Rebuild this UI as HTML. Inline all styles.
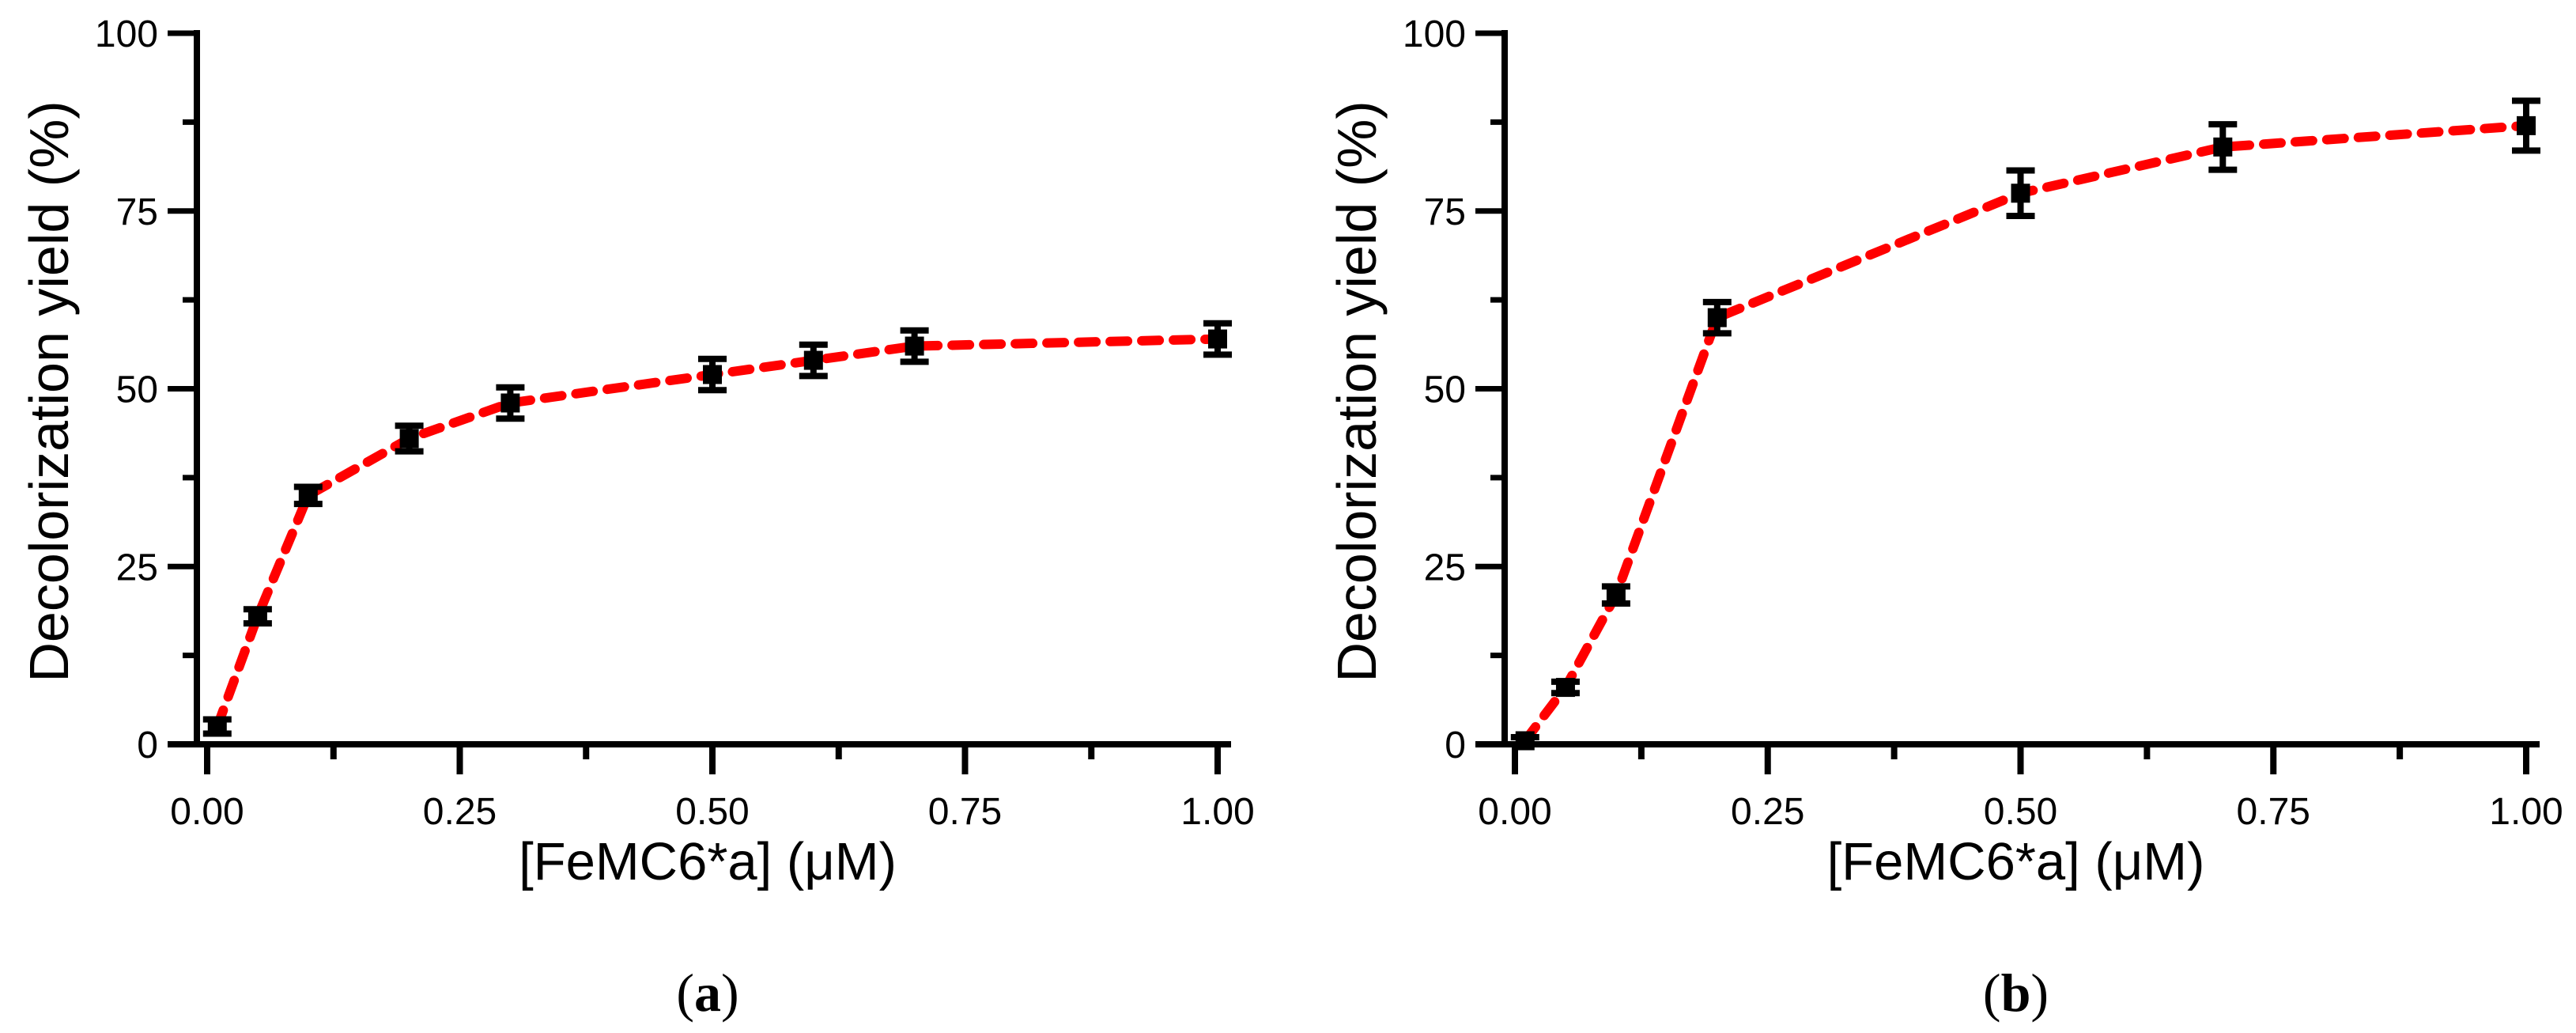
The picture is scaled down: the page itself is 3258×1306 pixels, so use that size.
<!DOCTYPE html>
<html><head><meta charset="utf-8">
<style>
html,body{margin:0;padding:0;background:#fff;}
svg{display:block;}
text{font-family:"Liberation Sans",sans-serif;fill:#000;}
</style></head>
<body>
<svg id="fig" width="3258" height="1306" viewBox="0 0 3258 1306" xmlns="http://www.w3.org/2000/svg"></svg>
<script>
// Panel (a) data
const xA = [0.01, 0.05, 0.1, 0.2, 0.3, 0.5, 0.6, 0.7, 1.0];
const yA = [2.5, 18, 35, 43, 48, 52, 54, 56, 57];
const eA = [1.0, 1.0, 1.2, 1.8, 2.2, 2.2, 2.2, 2.2, 2.2];
// Panel (b) data
const xB = [0.01, 0.05, 0.1, 0.2, 0.5, 0.7, 1.0];
const yB = [0.5, 8, 21, 60, 77.5, 84, 87];
const eB = [0.5, 0.8, 1.2, 2.2, 3.2, 3.2, 3.5];
// Tick labels
const xTicks = [0, 0.25, 0.5, 0.75, 1.0];
const xTickLabels = ["0.00", "0.25", "0.50", "0.75", "1.00"];
const yTicks = [0, 25, 50, 75, 100];
const yTickLabels = ["0", "25", "50", "75", "100"];

const NS = "http://www.w3.org/2000/svg";
const svg = document.getElementById('fig');
function mk(tag, attrs, parent) {
  const e = document.createElementNS(NS, tag);
  for (const k in attrs) e.setAttribute(k, attrs[k]);
  (parent || svg).appendChild(e);
  return e;
}

function panel(id, axX, x0px, x1px, xs, ys, es, letter) {
  const yTop = 42, yBot = 941;
  const sx = v => x0px + v * (x1px - x0px);
  const sy = v => yBot - v / 100 * (yBot - yTop);
  const g = mk('g', {});
  
  

  const ya = mk('line', {x1: axX, y1: yTop - 4, x2: axX, y2: yBot + 4, stroke: '#000', 'stroke-width': 8}, g);
  
  
  const xa = mk('line', {x1: axX - 37, y1: yBot, x2: x1px + 17, y2: yBot, stroke: '#000', 'stroke-width': 8}, g);
  
  

  for (let i = 0; i <= 8; i++) {
    const v = i * 12.5;
    const len = (i % 2 === 0) ? 37 : 18;
    const t = mk('line', {x1: axX - len, y1: sy(v), x2: axX, y2: sy(v), stroke: '#000', 'stroke-width': 7}, g);
    
    
  }
  yTicks.forEach((v, i) => {
    const t = mk('text', {x: axX - 49, y: sy(v) + 17, 'text-anchor': 'end', 'font-size': 48}, g);
    t.textContent = yTickLabels[i];
    
    
  });
  for (let i = 0; i <= 8; i++) {
    const v = i * 0.125;
    const len = (i % 2 === 0) ? 38 : 19;
    const t = mk('line', {x1: sx(v), y1: yBot, x2: sx(v), y2: yBot + len, stroke: '#000', 'stroke-width': 8}, g);
    
    
  }
  xTicks.forEach((v, i) => {
    const t = mk('text', {x: sx(v), y: 1042, 'text-anchor': 'middle', 'font-size': 48}, g);
    t.textContent = xTickLabels[i];
    
    
  });
  const xt = mk('text', {x: (x0px + x1px) / 2 - 6, y: 1112, 'text-anchor': 'middle', 'font-size': 67}, g);
  xt.textContent = '[FeMC6*a] (\u03BCM)';
  
  
  const ytx = axX - 188, yty = 495;
  const yt = mk('text', {x: ytx, y: yty, 'text-anchor': 'middle', 'font-size': 70, transform: `rotate(-90 ${ytx} ${yty})`, dy: 25}, g);
  yt.textContent = 'Decolorization yield (%)';
  
  
  const pl = mk('text', {x: (x0px + x1px) / 2 - 6, y: 1278, 'text-anchor': 'middle', 'font-size': 68, style: 'font-family:"Liberation Serif",serif'}, g);
  pl.innerHTML = '(<tspan font-weight="bold">' + letter + '</tspan>)';
  
  

  // curve: straight segments through the points
  const d = xs.map((v, i) => (i ? 'L' : 'M') + sx(v) + ',' + sy(ys[i])).join(' ');
  const c = mk('path', {d: d, fill: 'none', stroke: '#ff0000', 'stroke-width': 12, 'stroke-dasharray': '22 18', 'stroke-linecap': 'round', 'stroke-linejoin': 'round'}, g);
  
  

  xs.forEach((v, i) => {
    const cx = sx(v), cy = sy(ys[i]);
    const top = sy(ys[i] + es[i]), bot = sy(ys[i] - es[i]);
    const eb = mk('path', {d: `M${cx},${top} V${bot} M${cx - 18},${top} H${cx + 18} M${cx - 18},${bot} H${cx + 18}`, stroke: '#000', 'stroke-width': 8, fill: 'none'}, g);
    
    
    const m = mk('rect', {x: cx - 12, y: cy - 12, width: 24, height: 24, fill: '#000'}, g);
    
    
  });
}

panel('a', 249, 262, 1540, xA, yA, eA, 'a');
panel('b', 1903, 1916, 3195, xB, yB, eB, 'b');
</script>
</body></html>
